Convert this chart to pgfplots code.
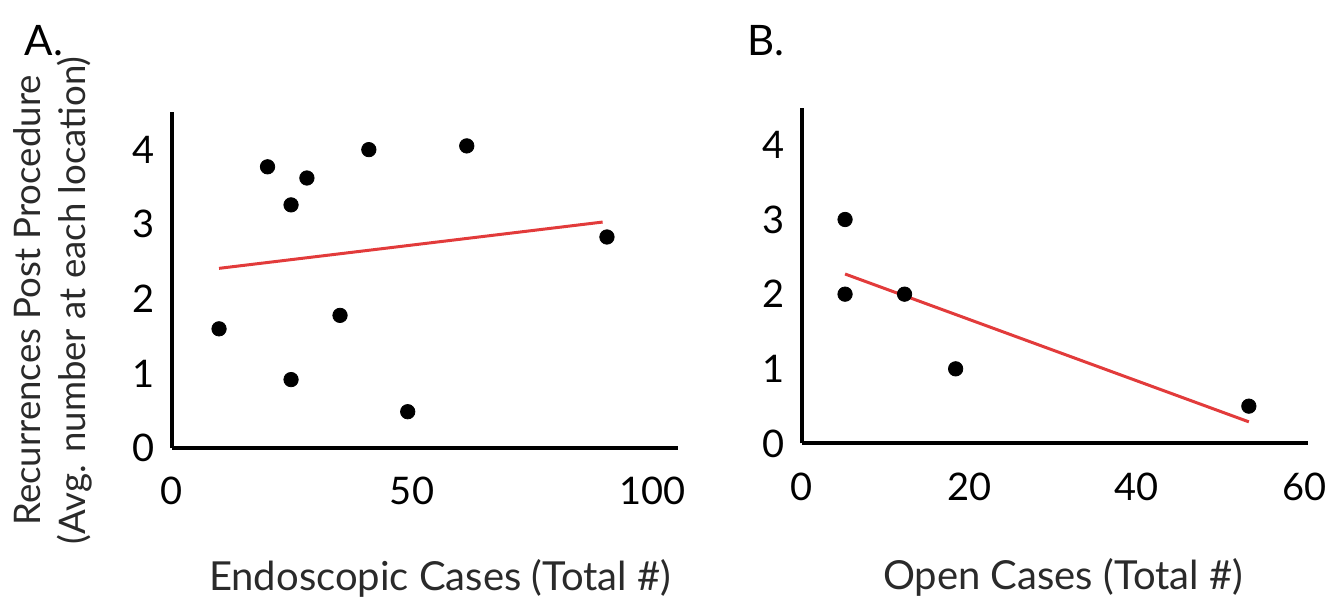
\documentclass[border=0pt]{standalone}
\usepackage{fontspec}
\setmainfont{Lato}
\usepackage{pgfplots}
\pgfplotsset{compat=1.18}
\definecolor{fitRed}{HTML}{E23B3B}
\definecolor{inkGray}{HTML}{2A2A2A}

\pgfplotsset{panel/.style={
  scale only axis,
  width=253pt,
  height=168pt,
  anchor=south west,
  axis x line*=bottom,
  axis y line*=left,
  axis line style={line width=2pt,-},
  major tick length=0pt,
  ymin=0, ymax=4.5,
  ytick={0,1,2,3,4},
  tick label style={font=\fontsize{19}{22}\selectfont},
  /pgf/number format/assume math mode=true,
  yticklabel style={xshift=-5pt},
  xticklabel style={yshift=-11pt},
  label style={font=\fontsize{20}{22}\selectfont, text=inkGray},
  clip=false,
}}

\begin{document}
\begin{tikzpicture}
\useasboundingbox (-86pt,-77.35pt) rectangle (586pt,224.15pt);

% A: endoscopic
\begin{axis}[
  panel,
  at={(0pt,0pt)},
  xmin=0, xmax=105.4,
  xtick={0,50,100},
  xlabel={Endoscopic Cases (Total \#)},
  xlabel style={at={(axis description cs:0.53,0)}, anchor=center, yshift=-65pt},
  ylabel={Recurrences Post Procedure\\(Avg. number at each location)},
  ylabel style={at={(axis description cs:-0.235,0.44)}, anchor=center, align=center,
    font=\fontsize{18.3}{22.5}\selectfont},
]
\addplot[only marks, mark=*, mark size=3.6pt, black] coordinates {
  (9.8,1.60)
  (19.9,3.77)
  (24.8,3.26)
  (24.8,0.92)
  (28.1,3.62)
  (35.0,1.78)
  (41.0,4.00)
  (49.1,0.49)
  (61.4,4.05)
  (90.6,2.83)
};
\addplot[fitRed, line width=1.5pt] coordinates {(9.8,2.41) (89.7,3.03)};
\end{axis}

% B: open
\begin{axis}[
  panel,
  at={(314.75pt,2.4pt)},
  xmin=0, xmax=60.4,
  xtick={0,20,40,60},
  xlabel={Open Cases (Total \#)},
  xlabel style={at={(axis description cs:0.517,0)}, anchor=center, yshift=-67pt},
]
\addplot[only marks, mark=*, mark size=3.6pt, black] coordinates {
  (5.2,3.0)
  (5.2,2.0)
  (12.3,2.0)
  (18.4,1.0)
  (53.4,0.5)
};
\addplot[fitRed, line width=1.5pt] coordinates {(5.2,2.27) (53.4,0.29)};
\end{axis}

\node[font=\fontsize{21}{24}\selectfont] at (-64pt,204pt) {A.};
\node[font=\fontsize{21}{24}\selectfont] at (297pt,204pt) {B.};
\end{tikzpicture}
\end{document}
